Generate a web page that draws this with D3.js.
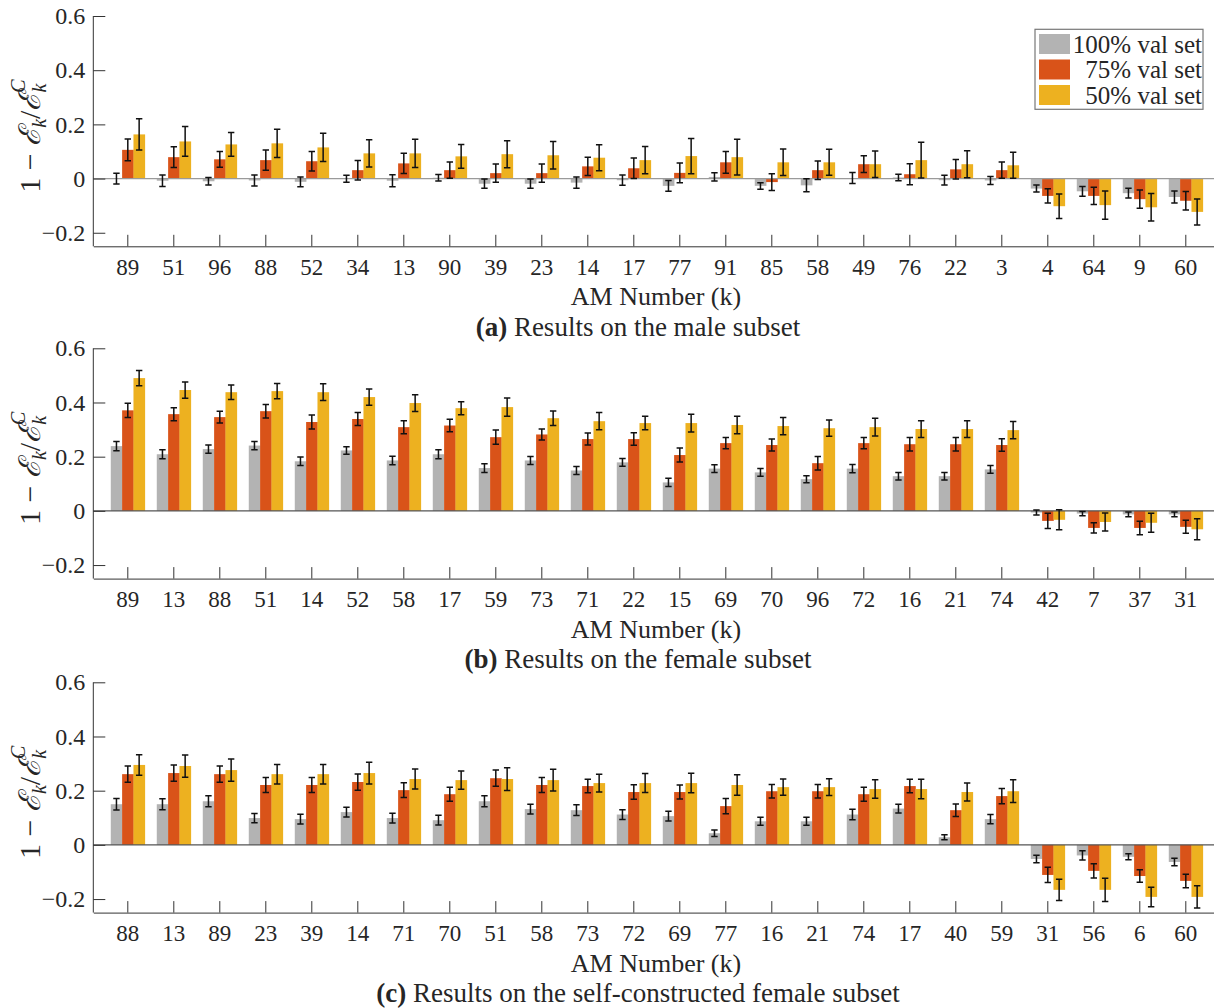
<!DOCTYPE html>
<html>
<head>
<meta charset="utf-8">
<script src="https://cdn.jsdelivr.net/npm/d3@7"></script>
<style>
  html, body { margin: 0; padding: 0; background: #fff; }
  svg { display: block; }
  text { font-family: "Liberation Serif", "Times New Roman", serif; fill: #262626; }
</style>
</head>
<body>
<svg id="fig" width="1214" height="1008"></svg>
<script>
// ---- series labels and colours ----
const seriesNames = ["100% val set", "75% val set", "50% val set"];
const seriesColors = ["#b3b3b3", "#d95319", "#edb120"];
const yTicks = [-0.2, 0, 0.2, 0.4, 0.6];

// ---- (a) male subset ----
const catsA = ["89","51","96","88","52","34","13","90","39","23","14","17","77","91","85","58","49","76","22","3","4","64","9","60"];
const a100 = [0.000,-0.008,-0.010,-0.007,-0.012,-0.001,-0.008,0.003,-0.019,-0.019,-0.015,-0.006,-0.027,0.006,-0.027,-0.025,0.002,0.004,-0.006,-0.007,-0.037,-0.047,-0.054,-0.068];
const a100Err = [0.020,0.021,0.014,0.020,0.018,0.013,0.022,0.012,0.017,0.017,0.021,0.019,0.020,0.015,0.012,0.024,0.020,0.012,0.018,0.015,0.013,0.018,0.018,0.022];
const a75 = [0.106,0.079,0.071,0.068,0.064,0.031,0.056,0.031,0.020,0.020,0.045,0.038,0.021,0.060,-0.013,0.031,0.053,0.016,0.034,0.031,-0.064,-0.064,-0.076,-0.082];
const a75Err = [0.040,0.038,0.029,0.037,0.036,0.036,0.037,0.030,0.034,0.034,0.034,0.038,0.036,0.040,0.031,0.034,0.031,0.039,0.036,0.030,0.026,0.032,0.034,0.034];
const a50 = [0.163,0.137,0.126,0.130,0.115,0.093,0.093,0.082,0.090,0.086,0.077,0.068,0.083,0.079,0.060,0.060,0.053,0.068,0.053,0.049,-0.102,-0.098,-0.106,-0.123];
const a50Err = [0.058,0.055,0.044,0.052,0.052,0.050,0.052,0.044,0.050,0.051,0.048,0.050,0.065,0.066,0.049,0.048,0.049,0.066,0.050,0.048,0.045,0.052,0.051,0.048];

// ---- (b) female subset ----
const catsB = ["89","13","88","51","14","52","58","17","59","73","71","22","15","69","70","96","72","16","21","74","42","7","37","31"];
const b100 = [0.239,0.209,0.228,0.241,0.183,0.223,0.186,0.209,0.158,0.186,0.149,0.179,0.105,0.156,0.142,0.117,0.156,0.128,0.128,0.153,-0.006,-0.010,-0.013,-0.013];
const b100Err = [0.017,0.017,0.015,0.015,0.016,0.014,0.016,0.017,0.016,0.015,0.015,0.014,0.015,0.014,0.014,0.013,0.015,0.014,0.014,0.014,0.009,0.008,0.009,0.009];
const b75 = [0.371,0.357,0.346,0.368,0.328,0.339,0.309,0.315,0.272,0.282,0.265,0.265,0.206,0.250,0.243,0.176,0.250,0.246,0.246,0.243,-0.037,-0.063,-0.063,-0.059];
const b75Err = [0.026,0.024,0.022,0.025,0.026,0.024,0.024,0.023,0.026,0.020,0.022,0.023,0.026,0.021,0.022,0.025,0.021,0.025,0.025,0.023,0.028,0.019,0.025,0.024];
const b50 = [0.490,0.446,0.438,0.442,0.438,0.420,0.398,0.379,0.383,0.342,0.331,0.324,0.324,0.317,0.313,0.305,0.309,0.302,0.302,0.298,-0.033,-0.041,-0.044,-0.068];
const b50Err = [0.028,0.030,0.027,0.028,0.031,0.030,0.031,0.024,0.034,0.027,0.032,0.025,0.033,0.032,0.032,0.030,0.033,0.031,0.031,0.032,0.037,0.033,0.035,0.039];

// ---- (c) self-constructed female subset ----
const catsC = ["88","13","89","23","39","14","71","70","51","58","73","72","69","77","16","21","74","17","40","59","31","56","6","60"];
const c100 = [0.150,0.150,0.161,0.099,0.095,0.121,0.099,0.091,0.161,0.132,0.128,0.112,0.106,0.043,0.087,0.087,0.112,0.134,0.028,0.095,-0.052,-0.039,-0.044,-0.063];
const c100Err = [0.021,0.020,0.020,0.017,0.018,0.018,0.018,0.018,0.020,0.018,0.020,0.018,0.018,0.012,0.015,0.015,0.019,0.016,0.009,0.017,0.014,0.017,0.011,0.014];
const c75 = [0.261,0.265,0.261,0.221,0.221,0.232,0.202,0.187,0.246,0.221,0.217,0.195,0.195,0.143,0.198,0.198,0.187,0.217,0.128,0.180,-0.111,-0.096,-0.115,-0.133];
const c75Err = [0.030,0.030,0.030,0.028,0.028,0.030,0.027,0.026,0.030,0.028,0.025,0.027,0.026,0.028,0.025,0.025,0.026,0.025,0.023,0.028,0.028,0.026,0.023,0.025];
const c50 = [0.295,0.291,0.276,0.261,0.261,0.265,0.243,0.239,0.243,0.239,0.228,0.228,0.228,0.221,0.213,0.213,0.206,0.206,0.195,0.198,-0.166,-0.166,-0.192,-0.192];
const c50Err = [0.038,0.041,0.041,0.036,0.036,0.040,0.037,0.034,0.042,0.040,0.033,0.035,0.036,0.038,0.030,0.031,0.034,0.036,0.033,0.042,0.039,0.043,0.036,0.041];

// ---- panel set-up ----
const panels = [
  { cats: catsA, vals: [a100, a75, a50], errs: [a100Err, a75Err, a50Err], tag: "(a)", caption: " Results on the male subset", top: 16, baseColor: "#9a9a9a", legend: true },
  { cats: catsB, vals: [b100, b75, b50], errs: [b100Err, b75Err, b50Err], tag: "(b)", caption: " Results on the female subset", top: 348.3, baseColor: "#555555", legend: false },
  { cats: catsC, vals: [c100, c75, c50], errs: [c100Err, c75Err, c50Err], tag: "(c)", caption: " Results on the self-constructed female subset", top: 682.3, baseColor: "#555555", legend: false }
];

const svg = d3.select("#fig");
const plotLeft = 93.3, plotRight = 1220.3, plotH = 230.3;
const axisColor = "#333333";
const serif = "'Liberation Serif', 'Times New Roman', serif";

panels.forEach(p => {
  const g = svg.append("g");
  const y = d3.scaleLinear().domain([-0.25, 0.6]).range([p.top + plotH, p.top]);
  const x = d3.scaleBand().domain(p.cats).range([plotLeft, plotRight])
    .paddingInner(0.26).paddingOuter(0.38);
  const xs = d3.scaleBand().domain(d3.range(3)).range([0, x.bandwidth()]);

  // bars
  p.vals.forEach((vals, si) => {
    g.append("g").selectAll("rect").data(p.cats).join("rect")
      .attr("x", (c) => x(c) + xs(si))
      .attr("width", xs.bandwidth() + 0.3)
      .attr("y", (c, i) => Math.min(y(vals[i]), y(0)))
      .attr("height", (c, i) => Math.abs(y(vals[i]) - y(0)))
      .attr("fill", seriesColors[si]);
  });

  // baseline at zero
  g.append("line")
    .attr("x1", plotLeft).attr("x2", plotRight)
    .attr("y1", y(0)).attr("y2", y(0))
    .attr("stroke", p.baseColor).attr("stroke-width", 1.3);

  // error bars
  p.vals.forEach((vals, si) => {
    const eg = g.append("g").attr("stroke", "#111").attr("stroke-width", 1.5).attr("fill", "none");
    p.cats.forEach((c, i) => {
      const cx = x(c) + xs(si) + xs.bandwidth() / 2;
      const lo = y(vals[i] - p.errs[si][i]);
      const hi = y(vals[i] + p.errs[si][i]);
      eg.append("path").attr("d",
        `M${cx},${hi}V${lo}M${cx - 3.2},${hi}H${cx + 3.2}M${cx - 3.2},${lo}H${cx + 3.2}`);
    });
  });

  // y axis
  const ya = g.append("g").attr("transform", `translate(${plotLeft},0)`)
    .call(d3.axisLeft(y).tickValues(yTicks).tickSizeInner(-12).tickSizeOuter(0).tickPadding(8)
      .tickFormat(d => d === 0 ? "0" : d3.format(".1f")(d)));
  ya.attr("font-family", null);
  ya.select(".domain").attr("stroke", axisColor).attr("d", `M0,${y(0.6)}V${y(-0.25)}`);
  ya.selectAll(".tick line").attr("stroke", axisColor);
  ya.selectAll(".tick text").attr("font-size", 24).attr("fill", "#262626")
    .style("font-family", serif);

  // x axis
  const xa = g.append("g").attr("transform", `translate(0,${p.top + plotH})`)
    .call(d3.axisBottom(x).tickSizeInner(-11.5).tickSizeOuter(0).tickPadding(12));
  xa.attr("font-family", null);
  xa.select(".domain").attr("stroke", axisColor);
  xa.selectAll(".tick line").attr("stroke", axisColor);
  xa.selectAll(".tick text").attr("font-size", 23).attr("fill", "#262626")
    .style("font-family", serif);

  // x axis title
  g.append("text")
    .attr("x", 656).attr("y", p.top + plotH + 59)
    .attr("text-anchor", "middle").attr("font-size", 26)
    .style("font-family", serif)
    .text("AM Number (k)");

  // caption
  const cap = g.append("text")
    .attr("x", 638).attr("y", p.top + plotH + 89.5)
    .attr("text-anchor", "middle").attr("font-size", 27)
    .style("font-family", serif);
  cap.append("tspan").attr("font-weight", "bold").text(p.tag);
  cap.append("tspan").text(p.caption);

  // y axis title: 1 − ℰ_k / ℰ_k^C
  const yl = g.append("text")
    .attr("transform", `translate(40,${p.top + 120}) rotate(-90)`)
    .attr("text-anchor", "middle").attr("font-size", 30)
    .style("font-family", serif);
  yl.append("tspan").text("1 − ");
  yl.append("tspan").style("font-family", "'DejaVu Serif', serif").attr("font-style", "italic").attr("font-size", 30).text("ℰ");
  yl.append("tspan").attr("font-style", "italic").attr("font-size", 20).attr("dy", 6).text("k");
  yl.append("tspan").attr("dy", -6).text("/");
  yl.append("tspan").style("font-family", "'DejaVu Serif', serif").attr("font-style", "italic").attr("font-size", 30).text("ℰ");
  yl.append("tspan").attr("font-style", "italic").attr("font-size", 20).attr("dy", 6).text("k");
  yl.append("tspan").attr("font-style", "italic").attr("font-size", 20).attr("dx", -9).attr("dy", -21).text("C");

  // legend
  if (p.legend) {
    const lg = g.append("g").attr("transform", "translate(1035,29.3)");
    lg.append("rect").attr("width", 168).attr("height", 80)
      .attr("fill", "#fff").attr("stroke", "#777").attr("stroke-width", 1.2);
    seriesNames.forEach((name, i) => {
      lg.append("rect").attr("x", 4).attr("y", 4.7 + i * 25.5).attr("width", 31).attr("height", 20)
        .attr("fill", seriesColors[i]);
      lg.append("text").attr("x", 167).attr("y", 14.7 + i * 25.5).attr("dy", "0.35em")
        .attr("text-anchor", "end").attr("font-size", 25)
        .style("font-family", serif).text(name);
    });
  }
});
</script>
</body>
</html>
